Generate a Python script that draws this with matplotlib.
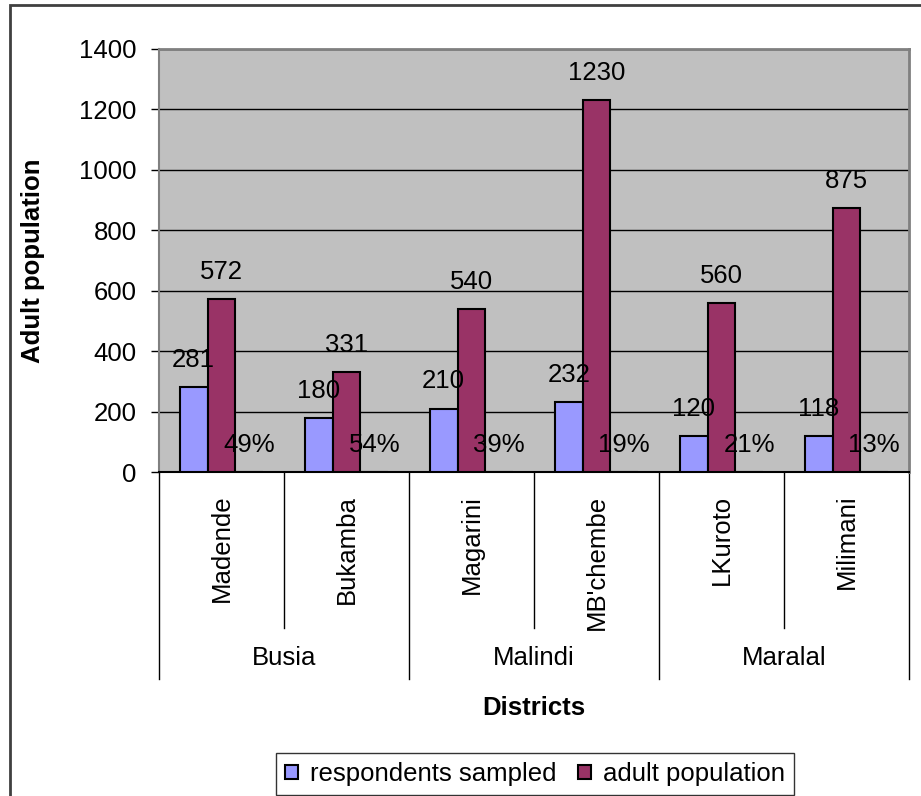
import matplotlib
matplotlib.use("Agg")
import matplotlib.pyplot as plt
import matplotlib.transforms as mtransforms
from matplotlib.patches import Rectangle, Patch

plt.rcParams['font.family'] = ['Liberation Sans', 'DejaVu Sans']

# data
sites = ["Madende", "Bukamba", "Magarini", "MB'chembe", "LKuroto", "Milimani"]
districts = ["Busia", "Malindi", "Maralal"]
sampled = [281, 180, 210, 232, 120, 118]
adult_pop = [572, 331, 540, 1230, 560, 875]
pct = [0.49, 0.54, 0.39, 0.19, 0.21, 0.13]

blue = '#9999FF'
maroon = '#993366'
fs = 18.5
fs_title = 18.5

fig = plt.figure(figsize=(9.21, 7.96), dpi=100)
ax = fig.add_axes([159/921, 1 - 472/796, 750/921, 423/796])
ax.set_facecolor('#C0C0C0')

x = list(range(len(sites)))
w = 1 / 4.5
b1 = ax.bar([i - w for i in x], sampled, w, color=blue, edgecolor='black', linewidth=1.5, zorder=3)
b2 = ax.bar(x, adult_pop, w, color=maroon, edgecolor='black', linewidth=1.5, zorder=3)
b3 = ax.bar([i + w for i in x], pct, w, color='#FFFFCC', edgecolor='black', linewidth=1.5, zorder=3)

for bars, vals, fmt in [(b1, sampled, '{}'), (b2, adult_pop, '{}'), (b3, pct, None)]:
    for r, v in zip(bars, vals):
        txt = fmt.format(v) if fmt else '{:.0f}%'.format(v * 100)
        ax.annotate(txt, (r.get_x() + r.get_width() / 2, r.get_height()),
                    xytext=(0, 19.5), textcoords='offset points',
                    ha='center', va='center', fontsize=fs, zorder=5)

ax.set_xlim(-0.5, len(sites) - 0.5)
ax.set_ylim(0, 1400)
ax.set_yticks(range(0, 1401, 200))
ax.tick_params(axis='y', labelsize=fs, length=6, width=1, direction='out', pad=10)
ax.set_xticks([])
ax.yaxis.grid(True, color='black', linewidth=1)
ax.set_axisbelow(True)
for s in ['top', 'right']:
    ax.spines[s].set_color('#808080')
    ax.spines[s].set_linewidth(2)
ax.spines['left'].set_color('#808080')
ax.spines['left'].set_linewidth(1.5)
ax.spines['bottom'].set_color('black')
ax.spines['bottom'].set_linewidth(1.5)

# category axis with two levels
trans = mtransforms.blended_transform_factory(ax.transData, ax.transAxes)
for i in range(len(sites) + 1):
    xs = i - 0.5
    ybot = -0.49 if i % 2 == 0 else -0.369
    ax.plot([xs, xs], [0, ybot], color='black', linewidth=1, transform=trans, clip_on=False)
for i, s in enumerate(sites):
    ax.text(i, -0.054, s, rotation=90, ha='center', va='top', fontsize=fs,
            transform=trans)
for j, d in enumerate(districts):
    ax.text(2 * j + 0.5, -0.44, d, ha='center', va='center', fontsize=fs, transform=trans)

ax.set_ylabel('Adult population', fontsize=fs_title, fontweight='bold')
ax.yaxis.set_label_coords(-0.152, 0.5)
fig.text(534/921, 1 - 708/796, 'Districts', ha='center', va='center', fontsize=fs_title, fontweight='bold')

handles = [Patch(facecolor=blue, edgecolor='black', linewidth=1.5),
           Patch(facecolor=maroon, edgecolor='black', linewidth=1.5)]
leg = fig.legend(handles, ['respondents sampled', 'adult population'], loc='center',
                 bbox_to_anchor=(535/921, 1 - 774/796), ncol=2, fontsize=fs,
                 frameon=True, fancybox=False, edgecolor='black', handlelength=0.5,
                 handleheight=0.5, handletextpad=0.45, columnspacing=0.85,
                 borderpad=0.35, borderaxespad=0)
leg.get_frame().set_linewidth(1)

# outer chart border, runs off the right and bottom edges
fig.patches.append(Rectangle((10/921, -0.05), 1.0, 1 - 5/796 + 0.05, transform=fig.transFigure,
                             fill=False, edgecolor='#404040', linewidth=2))

fig.savefig('out.png', dpi=100)
